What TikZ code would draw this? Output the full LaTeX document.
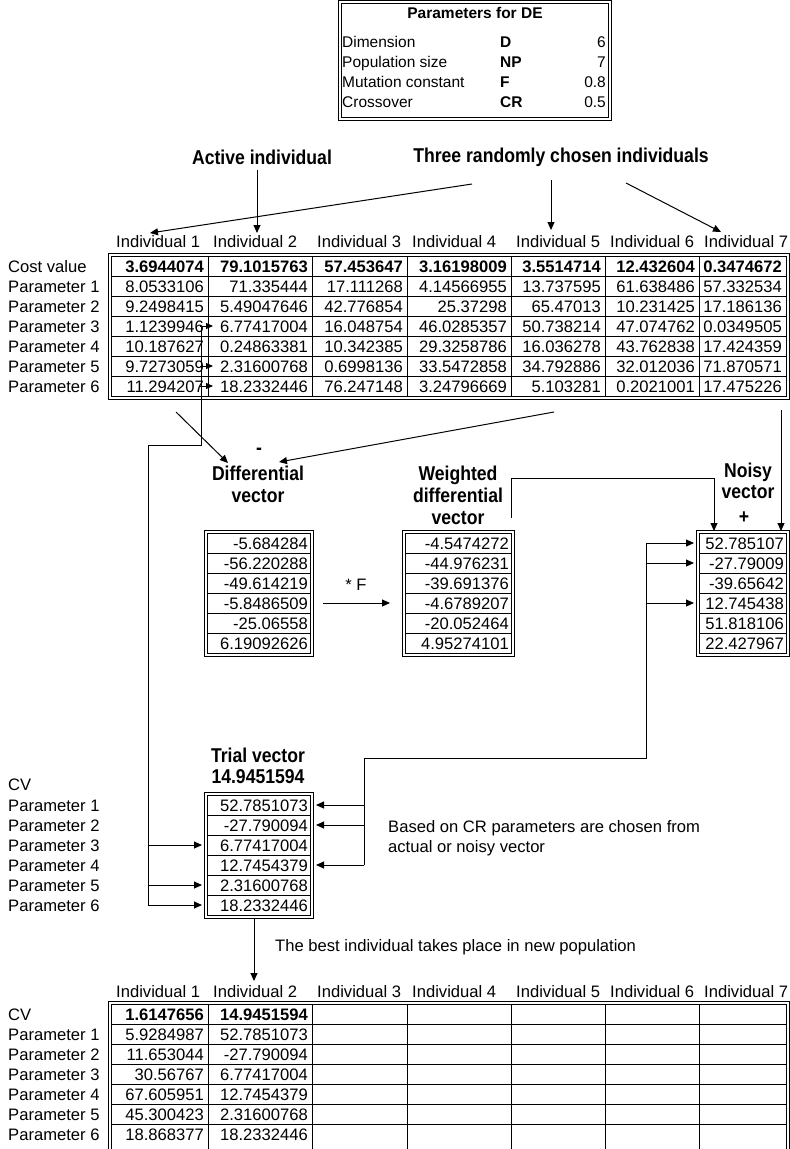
\documentclass[tikz,border=0pt]{standalone}
\usepackage{fontspec}
\setmainfont{Liberation Sans}
\newfontfamily\hdfont[FakeStretch=0.88]{Liberation Sans}
\usetikzlibrary{arrows.meta}
\newcommand\dblbox[4]{%
  \draw[frame] (#1,#2) rectangle (#3,#4);
  \draw[frame] (#1+3,#2+3) rectangle (#3-3,#4-3);}
\newcommand\vecbox[5]{%
  \dblbox{#2}{#4-3}{#3}{#4+123}
  \foreach \k in {1,...,5} {\draw[gridline] (#2+3,#4+20*\k) -- (#3-3,#4+20*\k);}
  \foreach \v [count=\i] in {#5} {\node[num] (#1-\i) at (#3-5,#4+20*\i-10) {\v};}
}
\def\colR{{208,312,407,511,605,699,786}}
\begin{document}
\begin{tikzpicture}[x=1pt,y=-1pt,
  frame/.style={line width=1pt,draw=black},
  gridline/.style={line width=1pt,draw=black},
  txt/.style={font=\fontsize{16.6}{20}\selectfont,inner sep=0pt,text height=12pt,text depth=0pt},
  small/.style={font=\fontsize{15.5}{18}\selectfont,inner sep=0pt,text height=11pt,text depth=0pt},
  num/.style={txt,anchor=east},
  bnum/.style={num,font=\fontsize{16.6}{20}\selectfont\bfseries},
  lbl/.style={txt,anchor=west},
  head/.style={font=\hdfont\bfseries\fontsize{20}{22}\selectfont,inner sep=0pt,align=center},
  arr/.style={line width=1pt,-{Triangle[length=8pt,width=7pt]}},
  sarr/.style={line width=1pt,-{Triangle[length=7pt,width=6pt]}},
  ln/.style={line width=1pt},
]
\useasboundingbox (0,0) rectangle (790,1149);
\clip (0,0) rectangle (790,1149);

% ---------- parameters box
\dblbox{338}{0.5}{611}{120}
\node[small,font=\fontsize{15.5}{18}\selectfont\bfseries] (ptitle) at (475,13) {Parameters for DE};
\foreach \lab/\sym/\val [count=\i] in {Dimension/D/6,Population size/NP/7,Mutation constant/F/0.8,Crossover/CR/0.5}{
  \node[small,anchor=west] (pl\i) at (342,22+20*\i) {\lab};
  \node[small,anchor=west,font=\fontsize{15.5}{18}\selectfont\bfseries] (ps\i) at (500,22+20*\i) {\sym};
  \node[small,anchor=east] (pv\i) at (606,22+20*\i) {\val};
}

% ---------- headings
\node[head] (act) at (262,157) {Active individual};
\node[head] (three) at (561,157) {Three randomly chosen individuals};

% ---------- top table
\dblbox{108}{253}{789}{399}
\foreach \y in {276,296,...,376} {\draw[gridline] (111,\y) -- (786,\y);}
\foreach \x in {208,312,407,511,605,699} {\draw[gridline] (\x,256) -- (\x,396);}
\foreach \x [count=\i] in {111,208,312,407,511,605,699} {\node[lbl] (h\i) at (\x+5,241) {Individual \i};}
\node[lbl] (rl0) at (8,266) {Cost value};
\foreach \i in {1,...,6} {\node[lbl] (rl\i) at (8,266+20*\i) {Parameter \i};}
\foreach \v [count=\i] in {3.6944074,79.1015763,57.453647,3.16198009,3.5514714,12.432604,0.3474672}{
  \pgfmathsetmacro\xr{\colR[\i-1]-4}
  \node[bnum] (t0-\i) at (\xr,266) {\v};}
\foreach \row [count=\r] in {
 {8.0533106,71.335444,17.111268,4.14566955,13.737595,61.638486,57.332534},
 {9.2498415,5.49047646,42.776854,25.37298,65.47013,10.231425,17.186136},
 {1.1239946,6.77417004,16.048754,46.0285357,50.738214,47.074762,0.0349505},
 {10.187627,0.24863381,10.342385,29.3258786,16.036278,43.762838,17.424359},
 {9.7273059,2.31600768,0.6998136,33.5472858,34.792886,32.012036,71.870571},
 {11.294207,18.2332446,76.247148,3.24796669,5.103281,0.2021001,17.475226}}{
  \foreach \v [count=\i] in \row {
    \pgfmathsetmacro\xr{\colR[\i-1]-4}
    \node[num] (t\r-\i) at (\xr,266+20*\r) {\v};}}

% ---------- arrows to headers
\coordinate (a1s) at (472,184); \coordinate (a1e) at (150,233);
\coordinate (a5s) at (551,180); \coordinate (a5e) at (551,230);
\coordinate (a7s) at (626,183); \coordinate (a7e) at (721,232);
\draw[arr] (act.south -| 257,0) ++(0,5) -- (257,233);
\draw[arr] (a1s) -- (a1e);
\draw[arr] (a5s) -- (a5e);
\draw[arr] (a7s) -- (a7e);

% ---------- middle labels
\node[head] (minus) at (259,451) {-};
\node[head] (dlab) at (258,484) {Differential\\vector};
\node[head] (wlab) at (458,495) {Weighted\\differential\\vector};
\node[head,font=\hdfont\bfseries\fontsize{20}{21}\selectfont] (nlab) at (748,481) {Noisy\\vector};
\node[head] (plus) at (744,518) {+};

\coordinate (m1s) at (176,412); \coordinate (m1e) at (228,463);
\coordinate (m5s) at (554,412); \coordinate (m5e) at (279,462);
\draw[arr] (m1s) -- (m1e);
\draw[arr] (m5s) -- (m5e);
\coordinate (c7s) at (781,410); \coordinate (c7e) at (781,531);
\draw[arr] (c7s) -- (c7e);

% ---------- vector boxes
\vecbox{d}{204}{313}{533}{-5.684284,-56.220288,-49.614219,-5.8486509,-25.06558,6.19092626}
\vecbox{w}{402}{514}{533}{-4.5474272,-44.976231,-39.691376,-4.6789207,-20.052464,4.95274101}
\vecbox{n}{696}{789}{533}{52.785107,-27.79009,-39.65642,12.745438,51.818106,22.427967}

\coordinate (wl) at (511,518); \coordinate (wr) at (714,478);
\draw[arr] (wl) |- (wr) -- (714,531);

\node[txt] (mulF) at (356,584) {* F};
\draw[arr] (d-4.east -| 323,0) -- (w-4.east -| 390,0);

% noisy bracket
\draw[ln] (646,543) -- (646,758) -- (364,758) -- (364,865);
\foreach \j in {1,2,4} {\draw[arr] (646,523+20*\j) -- (694,523+20*\j);}

% ---------- trial vector
\node[head,font=\hdfont\bfseries\fontsize{20}{21}\selectfont] (tlab) at (258,766) {Trial vector\\14.9451594};
\node[lbl] (cvl) at (8,784) {CV};
\foreach \i in {1,...,6} {\node[lbl] (tl\i) at (8,785+20*\i) {Parameter \i};}
\vecbox{tr}{204}{313}{795}{52.7851073,-27.790094,6.77417004,12.7454379,2.31600768,18.2332446}
\foreach \j in {1,2,4} {\draw[arr] (364,785+20*\j) -- (316,785+20*\j);}
\node[txt,anchor=north west,align=left,font=\fontsize{16.6}{20}\selectfont,text height=,text depth=] (crtxt) at (388,820) {Based on CR parameters are chosen from\\actual or noisy vector};

% active bracket
\draw[ln] (201,326) -- (201,445) -- (148,445) -- (148,905);
\foreach \j in {3,5,6} {\draw[sarr] (200,266+20*\j) -- (213,266+20*\j);}
\foreach \j in {3,5,6} {\draw[arr] (148,785+20*\j) -- (202,785+20*\j);}

% ---------- best individual
\draw[arr] (tr-6.south -| 254,0) ++(0,8) -- (254,981);
\node[lbl] (best) at (275,945) {The best individual takes place in new population};

% ---------- bottom table
\draw[frame] (108,1160) |- (789,1001) -- (789,1160);
\draw[frame] (111,1160) |- (786,1004) -- (786,1160);
\foreach \y in {1024,1044,...,1124} {\draw[gridline] (111,\y) -- (786,\y);}
\foreach \x in {208,312,407,511,605,699} {\draw[gridline] (\x,1004) -- (\x,1160);}
\foreach \x [count=\i] in {111,208,312,407,511,605,699} {\node[lbl] (b\i) at (\x+5,991) {Individual \i};}
\node[lbl] (bl0) at (8,1014) {CV};
\foreach \i in {1,...,6} {\node[lbl] (bl\i) at (8,1014+20*\i) {Parameter \i};}
\node[bnum] (b0-1) at (204,1014) {1.6147656};
\node[bnum] (b0-2) at (308,1014) {14.9451594};
\foreach \a/\b [count=\r] in {5.9284987/52.7851073,11.653044/-27.790094,30.56767/6.77417004,67.605951/12.7454379,45.300423/2.31600768,18.868377/18.2332446}{
  \node[num] (b\r-1) at (204,1014+20*\r) {\a};
  \node[num] (b\r-2) at (308,1014+20*\r) {\b};}
\end{tikzpicture}
\end{document}
